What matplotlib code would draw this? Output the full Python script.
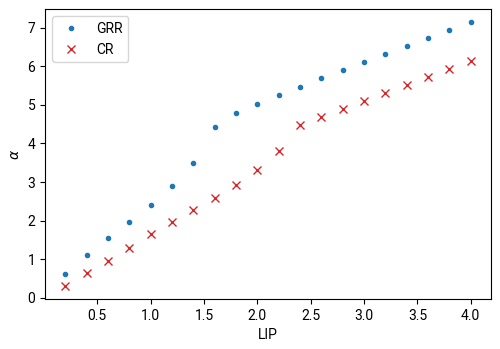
import matplotlib
matplotlib.use("Agg")
import matplotlib.pyplot as plt

plt.rcParams['font.family'] = ['Roboto', 'DejaVu Sans']

lip = [0.2, 0.4, 0.6, 0.8, 1.0, 1.2, 1.4, 1.6, 1.8, 2.0,
       2.2, 2.4, 2.6, 2.8, 3.0, 3.2, 3.4, 3.6, 3.8, 4.0]
grr = [0.62, 1.11, 1.55, 1.97, 2.41, 2.90, 3.49, 4.42, 4.79, 5.02,
       5.25, 5.46, 5.69, 5.90, 6.10, 6.31, 6.52, 6.73, 6.93, 7.14]
cr = [0.31, 0.65, 0.96, 1.29, 1.66, 1.97, 2.28, 2.58, 2.92, 3.31,
      3.80, 4.47, 4.68, 4.89, 5.10, 5.30, 5.51, 5.72, 5.93, 6.13]

fig, ax = plt.subplots(figsize=(5, 3.49), dpi=100)
fig.subplots_adjust(left=0.09, right=0.982, top=0.974, bottom=0.143)

ax.plot(lip, grr, ".", color="tab:blue", label="GRR")
ax.plot(lip, cr, "x", color="tab:red", label="CR")
ax.legend(loc="upper left")
ax.set_xlabel("LIP")
ax.set_ylabel(r"$\alpha$")

fig.savefig("out.png")
